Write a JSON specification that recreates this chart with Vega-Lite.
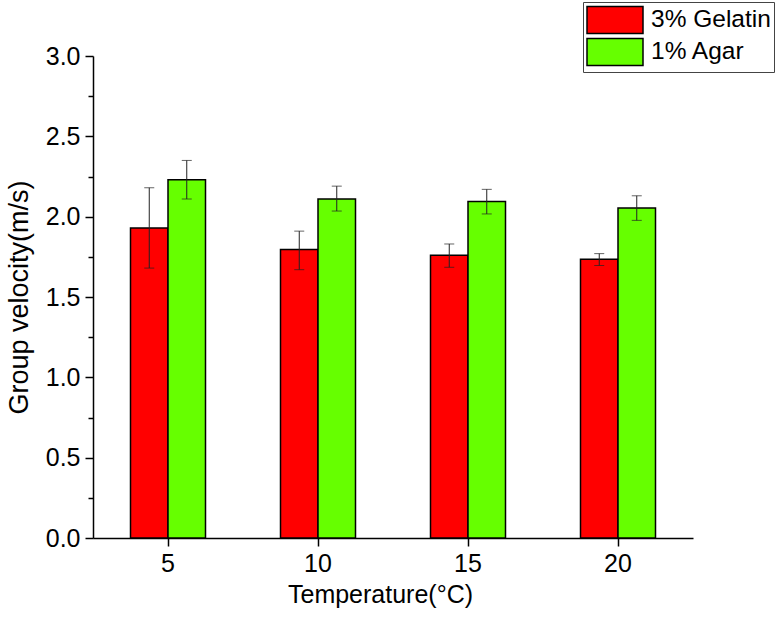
{
  "$schema": "https://vega.github.io/schema/vega-lite/v6.json",
  "width": 600,
  "height": 482,
  "autosize": {"type": "none"},
  "padding": {"left": 93, "top": 56, "right": 87, "bottom": 81},
  "background": "white",
  "config": {
    "view": {"stroke": null},
    "font": "Liberation Sans",
    "axis": {
      "domainColor": "black",
      "domainWidth": 1.5,
      "tickColor": "black",
      "tickWidth": 1.5,
      "tickSize": 8,
      "grid": false,
      "labelColor": "black",
      "titleColor": "black",
      "labelFontSize": 25,
      "titleFontSize": 25,
      "titleFontWeight": "normal",
      "labelFont": "Liberation Sans",
      "titleFont": "Liberation Sans"
    }
  },
  "data": {
    "values": [
      {"T": 5, "material": "3% Gelatin", "v": 1.93, "lo": 1.68, "hi": 2.18},
      {"T": 5, "material": "1% Agar", "v": 2.23, "lo": 2.11, "hi": 2.35},
      {"T": 10, "material": "3% Gelatin", "v": 1.795, "lo": 1.67, "hi": 1.91},
      {"T": 10, "material": "1% Agar", "v": 2.11, "lo": 2.035, "hi": 2.19},
      {"T": 15, "material": "3% Gelatin", "v": 1.76, "lo": 1.685, "hi": 1.83},
      {"T": 15, "material": "1% Agar", "v": 2.095, "lo": 2.017, "hi": 2.17},
      {"T": 20, "material": "3% Gelatin", "v": 1.735, "lo": 1.696, "hi": 1.77},
      {"T": 20, "material": "1% Agar", "v": 2.054, "lo": 1.977, "hi": 2.13}
    ]
  },
  "encoding": {
    "x": {
      "field": "T",
      "type": "ordinal",
      "sort": [5, 10, 15, 20],
      "scale": {"paddingInner": 0.5, "paddingOuter": 0.25},
      "axis": {"title": "Temperature(°C)", "labelAngle": 0, "labelPadding": 5, "titlePadding": 6, "titleX": 287}
    },
    "xOffset": {"field": "material", "type": "nominal", "sort": ["3% Gelatin", "1% Agar"]}
  },
  "layer": [
    {
      "mark": {"type": "bar", "stroke": "black", "strokeWidth": 1.5},
      "encoding": {
        "y": {
          "field": "v",
          "type": "quantitative",
          "scale": {"domain": [0, 3], "nice": false},
          "axis": {
            "title": "Group velocity(m/s)",
            "titleFontSize": 27,
            "values": [0, 0.25, 0.5, 0.75, 1, 1.25, 1.5, 1.75, 2, 2.25, 2.5, 2.75, 3],
            "labelExpr": "datum.value % 0.5 === 0 ? format(datum.value, '.1f') : ''",
            "tickSize": {"condition": {"test": "datum.value % 0.5 !== 0", "value": 5}, "value": 8},
            "labelPadding": 5,
            "titlePadding": 12
          }
        },
        "color": {
          "field": "material",
          "type": "nominal",
          "sort": ["3% Gelatin", "1% Agar"],
          "scale": {"domain": ["3% Gelatin", "1% Agar"], "range": ["#FF0000", "#66FF00"]},
          "legend": {
            "orient": "none",
            "legendX": 490,
            "legendY": -54,
            "title": null,
            "symbolType": "M-2,-0.96H2V0.96H-2Z",
            "symbolSize": 784,
            "symbolOffset": 14,
            "symbolStrokeColor": "black",
            "symbolStrokeWidth": 1.5,
            "symbolOpacity": 1,
            "labelFontSize": 24.5,
            "labelColor": "black",
            "labelOffset": 21,
            "strokeColor": "#444",
            "fillColor": "white",
            "padding": 3,
            "rowPadding": -2
          }
        }
      }
    },
    {
      "mark": {"type": "rule", "color": "#222", "strokeWidth": 1},
      "encoding": {"y": {"field": "lo", "type": "quantitative"}, "y2": {"field": "hi"}}
    },
    {
      "mark": {"type": "tick", "color": "#222", "size": 10, "thickness": 1},
      "encoding": {"y": {"field": "lo", "type": "quantitative"}}
    },
    {
      "mark": {"type": "tick", "color": "#222", "size": 10, "thickness": 1},
      "encoding": {"y": {"field": "hi", "type": "quantitative"}}
    }
  ]
}
